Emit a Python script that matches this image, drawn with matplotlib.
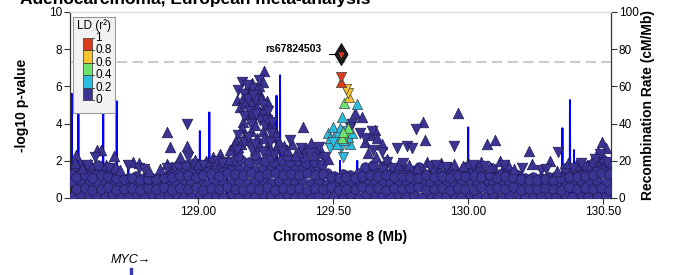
import numpy as np
import matplotlib.pyplot as plt
from matplotlib.patches import Rectangle

plt.rcParams['font.family'] = ['Liberation Sans', 'DejaVu Sans']

# background SNPs (r2 < 0.2), two interleaved sets of positions (Mb)
pos_a = [128.536, 128.563, 128.595, 128.622, 128.654, 128.681, 128.713, 128.740, 128.772, 128.799,
         128.831, 128.858, 128.889, 128.917, 128.948, 128.976, 129.007, 129.034, 129.066, 129.093,
         129.125, 129.152, 129.184, 129.211, 129.242, 129.270, 129.301, 129.328, 129.360, 129.387,
         129.419, 129.446, 129.478, 129.505, 129.537, 129.564, 129.595, 129.623, 129.654, 129.681,
         129.713, 129.740, 129.772, 129.799, 129.831, 129.858, 129.890, 129.917, 129.948, 129.976,
         130.007, 130.034, 130.066, 130.093, 130.125, 130.152, 130.184, 130.211, 130.242, 130.270,
         130.301, 130.328, 130.360, 130.387, 130.419, 130.446, 130.478, 130.510]
pos_b = [128.549, 128.580, 128.608, 128.639, 128.667, 128.698, 128.726, 128.757, 128.785, 128.816,
         128.844, 128.874, 128.903, 128.933, 128.962, 128.991, 129.020, 129.050, 129.079, 129.109,
         129.138, 129.168, 129.197, 129.227, 129.256, 129.286, 129.315, 129.344, 129.374, 129.403,
         129.432, 129.462, 129.491, 129.521, 129.550, 129.580, 129.609, 129.638, 129.668, 129.697,
         129.727, 129.756, 129.785, 129.815, 129.844, 129.874, 129.903, 129.933, 129.962, 129.991,
         130.021, 130.050, 130.080, 130.109, 130.139, 130.168, 130.197, 130.227, 130.256, 130.285,
         130.315, 130.344, 130.374, 130.403, 130.432, 130.462, 130.492, 130.522]
# -log10 p of those SNPs
a_low = [0.12, 0.20, 0.08, 0.18, 0.10, 0.22, 0.14, 0.06, 0.19, 0.11,
         0.24, 0.09, 0.16, 0.21, 0.07, 0.13, 0.20, 0.10, 0.17, 0.05,
         0.23, 0.12, 0.15, 0.09, 0.20, 0.14, 0.08, 0.22, 0.11, 0.18,
         0.06, 0.16, 0.21, 0.10, 0.13, 0.19, 0.07, 0.24, 0.12, 0.15,
         0.09, 0.20, 0.11, 0.17, 0.06, 0.22, 0.13, 0.10, 0.18, 0.08,
         0.21, 0.14, 0.12, 0.19, 0.07, 0.16, 0.23, 0.10, 0.15, 0.09,
         0.20, 0.12, 0.17, 0.06, 0.22, 0.11, 0.14, 0.18]
a_mid = [0.85, 0.92, 0.78, 0.88, 0.81, 0.94, 0.76, 0.87, 0.83, 0.90,
         0.79, 0.86, 0.93, 0.80, 0.89, 0.84, 0.95, 0.77, 0.91, 0.82,
         0.88, 0.93, 0.80, 0.86, 0.95, 0.83, 0.90, 0.78, 0.87, 0.92,
         0.81, 0.89, 0.76, 0.85, 0.93, 0.79, 0.88, 0.84, 0.91, 0.80,
         0.86, 0.78, 0.92, 0.83, 0.89, 0.77, 0.94, 0.85, 0.80, 0.88,
         0.91, 0.82, 0.87, 0.79, 0.93, 0.84, 0.76, 0.90, 0.86, 0.81,
         0.89, 0.78, 0.92, 0.84, 0.87, 0.80, 0.94, 0.88]
a_top = [1.30, 1.45, 1.38, 1.50, 1.40, 1.32, 1.20, 1.10, 1.18, 1.05,
         1.10, 1.15, 1.25, 1.35, 1.42, 1.50, 1.38, 1.55, 1.45, 1.60,
         1.60, 1.55, 1.65, 1.50, 1.60, 1.70, 1.58, 1.62, 1.55, 1.65,
         1.60, 1.55, 1.35, 1.20, 1.28, 1.22, 1.35, 1.50, 1.42, 1.45,
         1.35, 1.30, 1.42, 1.32, 1.38, 1.28, 1.40, 1.35, 1.30, 1.42,
         1.38, 1.45, 1.30, 1.40, 1.35, 1.30, 1.25, 1.10, 1.15, 1.05,
         1.15, 1.20, 1.30, 1.38, 1.35, 1.50, 1.60, 1.70]
b_low = [0.48, 0.55, 0.42, 0.51, 0.58, 0.45, 0.50, 0.56, 0.43, 0.52,
         0.47, 0.59, 0.44, 0.53, 0.49, 0.57, 0.41, 0.54, 0.46, 0.60,
         0.50, 0.43, 0.55, 0.48, 0.58, 0.45, 0.52, 0.47, 0.56, 0.42,
         0.53, 0.49, 0.57, 0.44, 0.51, 0.46, 0.59, 0.48, 0.54, 0.41,
         0.55, 0.47, 0.52, 0.58, 0.43, 0.50, 0.56, 0.45, 0.53, 0.49,
         0.42, 0.57, 0.48, 0.54, 0.46, 0.59, 0.44, 0.51, 0.47, 0.55,
         0.50, 0.43, 0.58, 0.46, 0.52, 0.49, 0.56, 0.45]
b_top = [1.15, 1.22, 1.10, 1.25, 1.18, 1.05, 1.00, 1.06, 0.98, 1.04,
         1.00, 1.08, 1.12, 1.20, 1.26, 1.15, 1.24, 1.30, 1.20, 1.32,
         1.28, 1.22, 1.32, 1.20, 1.28, 1.35, 1.25, 1.30, 1.22, 1.34,
         1.26, 1.30, 1.12, 1.06, 1.12, 1.08, 1.20, 1.24, 1.18, 1.22,
         1.12, 1.20, 1.15, 1.08, 1.22, 1.14, 1.18, 1.10, 1.24, 1.16,
         1.20, 1.14, 1.24, 1.10, 1.18, 1.12, 1.02, 0.98, 0.95, 1.00,
         0.96, 1.06, 1.15, 1.12, 1.20, 1.25, 1.34, 1.30]
hi_x = [128.545, 128.575, 128.605, 128.630, 128.665, 128.690, 128.905, 128.930, 128.955, 128.985,
        129.010, 129.040, 129.070, 129.100, 129.130, 129.160, 129.190, 129.220, 129.250, 129.280,
        129.310, 129.340, 129.370, 129.400, 129.430, 129.460, 129.150, 129.210, 129.270, 129.330,
        129.390, 129.620, 129.650, 129.685, 129.760, 129.820, 129.870, 129.930, 129.990, 130.040,
        130.090, 130.140, 130.360, 130.410, 130.450, 130.475, 130.500, 130.520, 130.490]
hi_p = [1.70, 1.78, 1.66, 1.76, 1.68, 1.60, 1.68, 1.82, 1.76, 1.88,
        1.78, 1.90, 1.83, 1.92, 1.98, 2.02, 1.93, 2.06, 2.00, 1.96,
        2.02, 1.93, 1.98, 1.90, 1.95, 1.82, 2.28, 2.32, 2.22, 2.28,
        2.18, 1.68, 1.78, 1.70, 1.62, 1.68, 1.60, 1.68, 1.66, 1.70,
        1.62, 1.68, 1.62, 1.70, 1.78, 1.92, 2.02, 1.88, 2.22]

# SNPs drawn as triangles (direction of effect), r2 < 0.2
up_x = [128.550, 128.625, 128.640, 128.690, 128.760, 128.780, 128.545, 128.600, 128.660, 128.885,
        128.896, 128.958, 128.933, 128.885, 128.990, 129.055, 129.080, 129.110, 129.246, 129.199,
        129.240, 129.225, 129.210, 129.180, 129.143, 129.165, 129.190, 129.230, 129.200, 129.220,
        129.254, 129.167, 129.162, 129.180, 129.200, 129.230, 129.250, 129.260, 129.280, 129.270,
        129.240, 129.210, 129.140, 129.120, 129.135, 129.150, 129.190, 129.220, 129.260, 129.290,
        129.300, 129.320, 129.390, 129.330, 129.350, 129.370, 129.400, 129.420, 129.440, 129.460,
        129.360, 129.430, 129.581, 129.606, 129.656, 129.640, 129.620, 129.665, 129.680, 129.630,
        129.660, 129.700, 129.834, 129.841, 129.962, 130.069, 130.100, 130.227, 130.238, 130.304,
        130.495, 130.480, 130.510, 130.500, 129.900, 129.950, 130.000, 130.050, 130.150, 129.780,
        130.400, 130.370, 130.460, 129.850, 130.120,
        129.155, 129.175, 129.205, 129.215, 129.235, 129.245, 129.265, 129.275, 129.285, 129.195,
        129.175, 129.160, 129.245, 129.230, 129.255,
        128.570, 128.710, 128.820, 128.860, 129.000, 129.030, 129.480, 129.740, 129.810, 129.980,
        130.080, 130.170, 130.330, 130.440]
up_p = [2.30, 2.58, 2.60, 2.26, 1.95, 1.90, 1.90, 1.85, 1.75, 3.57,
        2.74, 2.80, 2.22, 1.85, 2.04, 2.20, 2.35, 2.10, 6.85, 6.16,
        6.25, 6.00, 5.70, 5.90, 5.27, 5.40, 5.50, 5.60, 5.10, 4.90,
        5.20, 4.10, 3.74, 4.50, 4.30, 4.60, 4.40, 4.00, 3.70, 3.30,
        3.60, 3.90, 3.10, 2.58, 2.85, 2.75, 3.10, 3.20, 2.90, 2.70,
        3.00, 2.80, 3.83, 2.60, 2.90, 2.50, 2.70, 2.95, 2.60, 2.40,
        2.30, 2.30, 4.55, 4.37, 3.66, 3.40, 3.00, 3.20, 2.90, 2.40,
        2.20, 2.10, 4.07, 3.12, 4.55, 2.90, 3.12, 2.54, 1.81, 1.99,
        3.03, 2.50, 2.70, 2.20, 1.90, 1.85, 1.90, 1.95, 1.80, 1.75,
        1.80, 1.90, 2.00, 1.95, 2.00,
        4.90, 5.10, 4.60, 5.90, 5.30, 4.80, 4.30, 3.90, 3.40, 3.60,
        3.40, 2.90, 3.20, 2.80, 2.60,
        1.60, 1.50, 1.45, 1.55, 1.85, 2.00, 2.10, 1.80, 1.60, 1.70,
        1.65, 1.55, 1.45, 1.75]
dn_x = [128.620, 128.740, 128.780, 128.958, 128.963, 128.885, 129.070, 129.162, 129.150, 129.170,
        129.200, 129.185, 129.210, 129.240, 129.260, 129.230, 129.190, 129.250, 129.270, 129.150,
        129.170, 129.200, 129.240, 129.280, 129.310, 129.340, 129.380, 129.410, 129.450, 129.569,
        129.563, 129.619, 129.600, 129.645, 129.680, 129.650, 129.700, 129.807, 129.736, 129.773,
        129.793, 129.949, 130.332, 129.720, 129.860, 130.020, 130.200, 130.430, 130.390, 130.490,
        130.515, 129.920, 130.270,
        129.180, 129.225, 129.205, 129.170, 129.215, 129.255, 129.275, 129.195, 129.185, 129.265,
        129.145, 129.210,
        128.590, 128.670, 128.800, 129.020, 129.090, 129.470, 129.760, 129.880, 130.060, 130.135,
        130.290, 130.420, 130.470]
dn_p = [2.20, 1.80, 1.60, 3.98, 2.22, 1.60, 2.00, 6.25, 5.80, 5.60,
        5.90, 5.30, 5.30, 5.00, 4.70, 4.20, 4.70, 3.85, 3.50, 3.40,
        3.00, 2.60, 2.50, 2.30, 2.55, 3.10, 2.70, 2.40, 2.75, 4.00,
        3.83, 3.20, 3.50, 3.60, 2.50, 2.60, 1.95, 3.70, 2.67, 2.80,
        2.67, 2.80, 2.49, 1.60, 1.70, 1.75, 1.60, 1.65, 1.60, 2.35,
        1.95, 1.65, 1.50,
        6.05, 6.35, 5.55, 4.40, 4.50, 4.20, 4.10, 4.00, 3.30, 3.00,
        2.60, 2.90,
        1.75, 1.60, 1.55, 1.80, 1.90, 2.20, 1.90, 1.80, 1.70, 1.75,
        1.55, 1.90, 2.10]

# SNPs in LD with the index SNP
ld_x = [129.531, 129.531, 129.549, 129.556, 129.561, 129.540, 129.588, 129.532, 129.500, 129.526,
        129.510, 129.520, 129.540, 129.545, 129.555, 129.565, 129.500, 129.490, 129.489, 129.538,
        129.515, 129.530, 129.570, 129.560, 129.480, 129.557, 129.539, 129.550, 129.535]
ld_p = [6.50, 6.24, 5.88, 5.62, 5.45, 5.12, 5.05, 4.34, 3.83, 3.74,
        3.50, 3.30, 3.10, 3.60, 3.30, 2.90, 3.00, 3.20, 2.68, 2.22,
        2.90, 2.70, 3.50, 3.10, 3.50, 3.74, 3.57, 3.40, 3.25]
ld_r2 = [0.92, 0.88, 0.72, 0.70, 0.68, 0.50, 0.30, 0.30, 0.28, 0.30,
         0.25, 0.30, 0.32, 0.30, 0.28, 0.26, 0.30, 0.29, 0.30, 0.27,
         0.31, 0.30, 0.30, 0.28, 0.26, 0.45, 0.47, 0.42, 0.44]
ld_dir = ['v', '^', 'v', 'v', '^', '^', '^', '^', '^', '^',
          '^', 'v', '^', 'v', '^', '^', 'v', '^', 'v', 'v',
          '^', 'v', '^', 'v', '^', '^', '^', 'v', '^']

lead_name = 'rs67824503'
lead_x, lead_p = 129.531, 7.75

# recombination rate (cM/Mb)
rec_pos = [128.526, 128.532, 128.533, 128.534, 128.556, 128.557, 128.558, 128.574, 128.575, 128.576,
           128.648, 128.649, 128.650, 128.698, 128.699, 128.700, 128.741, 128.742, 128.743, 128.879,
           128.880, 128.881, 129.006, 129.007, 129.008, 129.041, 129.042, 129.043, 129.105, 129.106,
           129.107, 129.149, 129.150, 129.151, 129.290, 129.291, 129.292, 129.303, 129.304, 129.305,
           129.329, 129.330, 129.331, 129.463, 129.464, 129.465, 129.525, 129.526, 129.527, 129.589,
           129.590, 129.591, 129.799, 129.800, 129.801, 129.999, 130.001, 130.002, 130.349, 130.350,
           130.351, 130.377, 130.378, 130.379, 130.392, 130.393, 130.394, 130.509, 130.510, 130.511,
           130.526]
rec_rate = [1.5, 1.5, 56, 1.8, 1.5, 47, 2.0, 1.5, 14, 1.2,
            1.0, 48, 1.5, 1.2, 52, 1.4, 1.0, 17, 1.2, 0.8,
            8, 0.8, 1.0, 36, 1.3, 1.1, 46, 1.5, 1.0, 17,
            1.0, 0.9, 6, 0.9, 1.2, 55, 2.0, 2.0, 66, 1.6,
            1.2, 10, 1.0, 1.0, 22, 1.1, 0.9, 20, 1.0, 1.0,
            20, 1.2, 0.8, 17, 0.9, 1.0, 38, 1.2, 1.0, 37.5,
            2.0, 2.0, 52.7, 3.0, 3.0, 25.8, 1.5, 1.0, 8, 1.0,
            1.0]

gene_names = ['MYC']
gene_start = [128.748]
gene_end = [128.753]

ld_bins = [0, 0.2, 0.4, 0.6, 0.8, 1]
ld_colors = ['#3c3493', '#2bbde0', '#6ee36e', '#f8c331', '#db3b1c']
edge = '#1f1a55'

fig = plt.figure(figsize=(6.75, 2.75), dpi=100)
ax = fig.add_axes([70/675, 1-198/275, 541/675, 186/275])
ax2 = ax.twinx()
ax.set_zorder(ax2.get_zorder() + 1)
ax.patch.set_visible(False)

ax2.plot(rec_pos, rec_rate, color='#0000ff', lw=1.4)
ax2.set_ylim(0, 100)
ax2.set_yticks([0, 20, 40, 60, 80, 100])

ax.axhline(7.3, color='#cccccc', lw=1.5, ls=(0, (5, 2.5)), zorder=1)

circ_x = pos_a + pos_a + pos_a + pos_b + pos_b + hi_x
circ_p = a_low + a_mid + a_top + b_low + b_top + hi_p
ax.scatter(circ_x, circ_p, s=48, marker='o', c=ld_colors[0], edgecolors=edge, linewidths=0.5, zorder=3)
ax.scatter(up_x, up_p, s=58, marker='^', c=ld_colors[0], edgecolors=edge, linewidths=0.5, zorder=4)
ax.scatter(dn_x, dn_p, s=58, marker='v', c=ld_colors[0], edgecolors=edge, linewidths=0.5, zorder=4)

ld_x = np.array(ld_x); ld_p = np.array(ld_p); ld_r2 = np.array(ld_r2); ld_dir = np.array(ld_dir)
ld_bin = np.clip(np.digitize(ld_r2, ld_bins) - 1, 0, 4)
order = np.argsort(ld_r2)
for i in order:
    ax.scatter(ld_x[i], ld_p[i], s=55, marker=ld_dir[i], c=ld_colors[ld_bin[i]],
               edgecolors='#444444', linewidths=0.5, zorder=5)

ax.scatter(lead_x, lead_p, s=125, marker='d', c='#1a1a1a', edgecolors='black', linewidths=0.6, zorder=6)
ax.scatter(lead_x, lead_p - 0.05, s=20, marker='v', c=ld_colors[4], linewidths=0, zorder=7)
ax.text(lead_x - 0.072, lead_p + 0.25, lead_name, ha='right', va='center', fontsize=7.5, fontweight='bold')
ax.plot([lead_x - 0.045, lead_x - 0.022], [lead_p, lead_p], color='black', lw=0.8, zorder=6)

ax.set_xlim(128.526, 130.53)
ax.set_ylim(0, 10)
ax.set_yticks([0, 2, 4, 6, 8, 10])
ax.set_xticks([129.0, 129.5, 130.0, 130.5])
ax.set_xticklabels(['%.2f' % t for t in [129.0, 129.5, 130.0, 130.5]])
for a in (ax, ax2):
    a.tick_params(labelsize=8.5, length=4, width=0.8, color='#333333', pad=1.5)
    for s in ('left', 'right', 'bottom'):
        a.spines[s].set_color('#333333')
        a.spines[s].set_linewidth(0.8)
    a.spines['top'].set_color('#dddddd')

fig.text(22/675, 1-105/275, '-log10 p-value', rotation=90, ha='center', va='center',
         fontsize=10, fontweight='bold')
fig.text(648/675, 1-105/275, 'Recombination Rate (cM/Mb)', rotation=90, ha='center', va='center',
         fontsize=10, fontweight='bold')
fig.text(340/675, 1-237/275, 'Chromosome 8 (Mb)', ha='center', va='center', fontsize=10, fontweight='bold')
fig.text(20/675, 1-4/275, 'Adenocarcinoma, European meta-analysis', ha='left', va='baseline',
         fontsize=12.5, fontweight='bold')

# LD legend box
lg = fig.add_axes([73/675, 1-113/275, 42/675, 96/275])
lg.set_zorder(10)
lg.set_xlim(0, 42)
lg.set_ylim(96, 0)
lg.set_facecolor('#f2f2f2')
for s in lg.spines.values():
    s.set_color('#999999')
    s.set_linewidth(0.8)
lg.set_xticks([])
lg.set_yticks([])
lg.text(21, 9, 'LD (r²)', ha='center', va='center', fontsize=8.5)
seg = 12.4
for i in range(5):
    lg.add_patch(Rectangle((10, 83 - (i + 1) * seg), 9, seg, fc=ld_colors[i], ec='#333333', lw=0.5))
for i, b in enumerate(ld_bins):
    yy = 83 - i * seg
    lg.plot([19, 21], [yy, yy], color='#333333', lw=0.6)
    lg.text(22, yy, '%g' % b, ha='left', va='center', fontsize=8.5)

# gene track
gx = fig.add_axes([70/675, -10/275, 541/675, 40/275])
gx.set_xlim(ax.get_xlim())
gx.set_ylim(0, 1)
gx.axis('off')
for name, s, e in zip(gene_names, gene_start, gene_end):
    gx.add_patch(Rectangle((s, 0.1), max(e - s, 0.006), 0.32, color='#3838b0'))
    gx.text((s + e) / 2, 0.48, name + '→', style='italic', fontsize=9, ha='center', va='bottom',
            family=['Liberation Sans', 'DejaVu Sans'])

fig.savefig('out.png', dpi=100)
